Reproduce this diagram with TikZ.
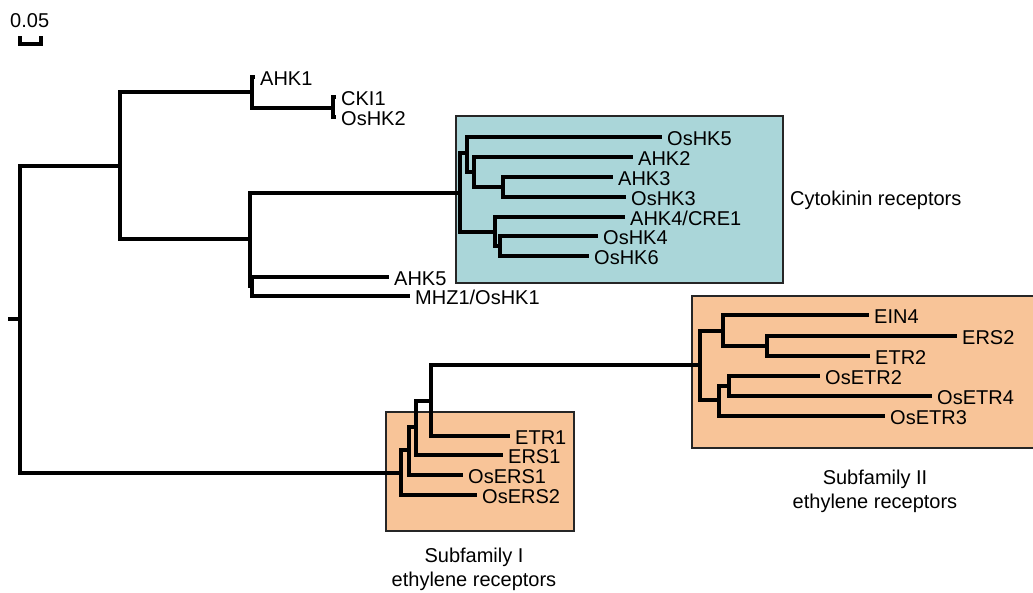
\documentclass[tikz,border=0pt]{standalone}
\usepackage{fontspec}
\setmainfont{Liberation Sans}
\definecolor{cytofill}{RGB}{170,214,217}
\definecolor{ethfill}{RGB}{248,196,152}
\tikzstyle{branch}=[line width=3.2pt, line join=miter]
\tikzstyle{cladebox}=[draw=black!85, line width=1.9pt]
\tikzstyle{leaf}=[anchor=base west, inner sep=0pt, xshift=5pt, yshift=-8pt]

\begin{document}
\begin{tikzpicture}[x=1pt, y=-1pt, font=\fontsize{20}{24}\selectfont]
\useasboundingbox (0,0) rectangle (1033,592);
% Boxes
    \draw[cladebox, fill=cytofill] (456,116) rectangle (783,283);
    \draw[cladebox, fill=ethfill] (692,296) rectangle (1045,448);
    \draw[cladebox, fill=ethfill] (386,412) rectangle (574,531);
% Scale bar
    \node[anchor=base west, inner sep=0pt] (scale) at (10,27) {0.05};
    \draw[branch] (20,36) -- (20,44) -- (41,44) -- (41,36);
% Inner nodes
    \coordinate (stub) at (8,319);
    \coordinate (r) at (20,319);
    \coordinate (a) at (120,166);
    \coordinate (b) at (252,92);
    \coordinate (c) at (333,108);
    \coordinate (d) at (250,239);
    \coordinate (d2) at (252,286);
    \coordinate (cy) at (460,193);
    \coordinate (cy1) at (467,153);
    \coordinate (cy2) at (474,172);
    \coordinate (cy3) at (503,187);
    \coordinate (cy4) at (495,232);
    \coordinate (cy5) at (500,246);
    \coordinate (e) at (401,473);
    \coordinate (e1) at (409,450);
    \coordinate (e2) at (416,427);
    \coordinate (e3) at (431,401);
    \coordinate (s) at (700,365);
    \coordinate (s1) at (723,331);
    \coordinate (s2) at (767,346);
    \coordinate (s3) at (719,400);
    \coordinate (s4) at (729,386);
% Leaves
    \coordinate (t-ahk1) at (255,77);
    \coordinate (t-cki1) at (336,97);
    \coordinate (t-oshk2) at (336,117);
    \coordinate (t-oshk5) at (662,137);
    \coordinate (t-ahk2) at (633,157);
    \coordinate (t-ahk3) at (613,177);
    \coordinate (t-oshk3) at (626,197);
    \coordinate (t-ahk4) at (625,217);
    \coordinate (t-oshk4) at (598,236);
    \coordinate (t-oshk6) at (589,256);
    \coordinate (t-ahk5) at (389,277);
    \coordinate (t-mhz1) at (410,296);
    \coordinate (t-ein4) at (869,315);
    \coordinate (t-ers2) at (957,336);
    \coordinate (t-etr2) at (870,356);
    \coordinate (t-osetr2) at (820,376);
    \coordinate (t-osetr4) at (932,396);
    \coordinate (t-osetr3) at (885,416);
    \coordinate (t-etr1) at (510,436);
    \coordinate (t-ers1) at (503,455);
    \coordinate (t-osers1) at (463,475);
    \coordinate (t-osers2) at (477,495);
% Branches
    \draw[branch] (stub) -- (r);
    \draw[branch] (r) |- (a);
    \draw[branch] (r) |- (e);
    \draw[branch] (a) |- (b);
    \draw[branch] (a) |- (d);
    \draw[branch] (b) |- (t-ahk1);
    \draw[branch] (b) |- (c);
    \draw[branch] (c) |- (t-cki1);
    \draw[branch] (c) |- (t-oshk2);
    \draw[branch] (d) |- (cy);
    \draw[branch] (d) |- (d2);
    \draw[branch] (d2) |- (t-ahk5);
    \draw[branch] (d2) |- (t-mhz1);
    \draw[branch] (cy) |- (cy1);
    \draw[branch] (cy) |- (cy4);
    \draw[branch] (cy1) |- (t-oshk5);
    \draw[branch] (cy1) |- (cy2);
    \draw[branch] (cy2) |- (t-ahk2);
    \draw[branch] (cy2) |- (cy3);
    \draw[branch] (cy3) |- (t-ahk3);
    \draw[branch] (cy3) |- (t-oshk3);
    \draw[branch] (cy4) |- (t-ahk4);
    \draw[branch] (cy4) |- (cy5);
    \draw[branch] (cy5) |- (t-oshk4);
    \draw[branch] (cy5) |- (t-oshk6);
    \draw[branch] (e) |- (e1);
    \draw[branch] (e) |- (t-osers2);
    \draw[branch] (e1) |- (e2);
    \draw[branch] (e1) |- (t-osers1);
    \draw[branch] (e2) |- (e3);
    \draw[branch] (e2) |- (t-ers1);
    \draw[branch] (e3) |- (s);
    \draw[branch] (e3) |- (t-etr1);
    \draw[branch] (s) |- (s1);
    \draw[branch] (s) |- (s3);
    \draw[branch] (s1) |- (t-ein4);
    \draw[branch] (s1) |- (s2);
    \draw[branch] (s2) |- (t-ers2);
    \draw[branch] (s2) |- (t-etr2);
    \draw[branch] (s3) |- (s4);
    \draw[branch] (s3) |- (t-osetr3);
    \draw[branch] (s4) |- (t-osetr2);
    \draw[branch] (s4) |- (t-osetr4);
% Names
    \node[leaf] (ahk1) at (t-ahk1) {AHK1};
    \node[leaf] (cki1) at (t-cki1) {CKI1};
    \node[leaf] (oshk2) at (t-oshk2) {OsHK2};
    \node[leaf] (oshk5) at (t-oshk5) {OsHK5};
    \node[leaf] (ahk2) at (t-ahk2) {AHK2};
    \node[leaf] (ahk3) at (t-ahk3) {AHK3};
    \node[leaf] (oshk3) at (t-oshk3) {OsHK3};
    \node[leaf] (ahk4) at (t-ahk4) {AHK4/CRE1};
    \node[leaf] (oshk4) at (t-oshk4) {OsHK4};
    \node[leaf] (oshk6) at (t-oshk6) {OsHK6};
    \node[leaf] (ahk5) at (t-ahk5) {AHK5};
    \node[leaf] (mhz1) at (t-mhz1) {MHZ1/OsHK1};
    \node[leaf] (ein4) at (t-ein4) {EIN4};
    \node[leaf] (ers2) at (t-ers2) {ERS2};
    \node[leaf] (etr2) at (t-etr2) {ETR2};
    \node[leaf] (osetr2) at (t-osetr2) {OsETR2};
    \node[leaf] (osetr4) at (t-osetr4) {OsETR4};
    \node[leaf] (osetr3) at (t-osetr3) {OsETR3};
    \node[leaf] (etr1) at (t-etr1) {ETR1};
    \node[leaf] (ers1) at (t-ers1) {ERS1};
    \node[leaf] (osers1) at (t-osers1) {OsERS1};
    \node[leaf] (osers2) at (t-osers2) {OsERS2};
% Group labels
    \node[anchor=base west, inner sep=0pt] (cytolabel) at (790,205) {Cytokinin receptors};
    \node[anchor=north, inner sep=0pt, align=center] (sub2label) at (875,470) {Subfamily II\\ethylene receptors};
    \node[anchor=north, inner sep=0pt, align=center] (sub1label) at (474,548) {Subfamily I\\ethylene receptors};
\end{tikzpicture}
\end{document}
